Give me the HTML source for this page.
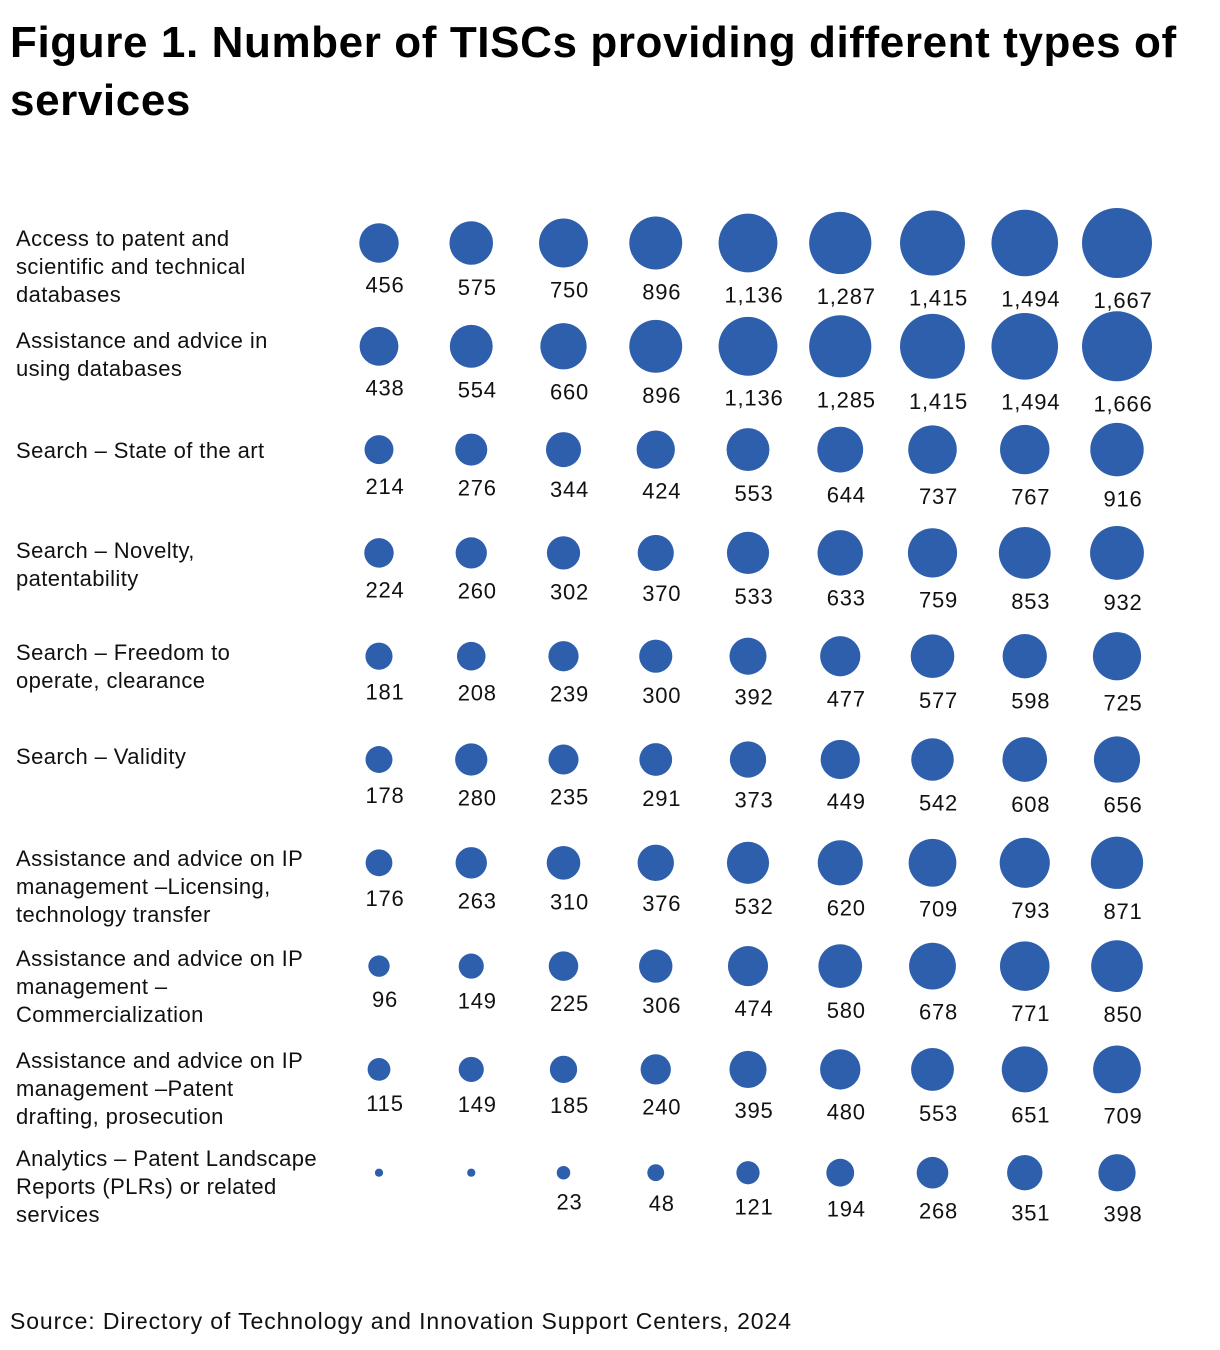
<!DOCTYPE html>
<html><head><meta charset="utf-8">
<style>
body{margin:0;background:#fff;width:1220px;height:1350px;overflow:hidden;font-family:"Liberation Sans","DejaVu Sans",sans-serif;}
h1{position:absolute;left:10px;top:14px;margin:0;font-size:44px;line-height:58px;font-weight:bold;color:#000;width:1210px;letter-spacing:0.6px;}
.src{position:absolute;left:10px;top:1308px;font-size:23px;color:#111;letter-spacing:0.9px;}
.rl{position:absolute;left:16px;font-size:22px;line-height:28px;color:#111;width:350px;letter-spacing:0.4px;white-space:nowrap;}
</style></head><body>
<h1>Figure 1. Number of TISCs providing different types of services</h1>
<div id="labels"></div>
<svg id="chart" width="1220" height="1350" style="position:absolute;left:0;top:0"></svg>
<div class="src">Source: Directory of Technology and Innovation Support Centers, 2024</div>
<script>
const categories=["Access to patent and|scientific and technical|databases","Assistance and advice in|using databases","Search – State of the art","Search – Novelty,|patentability","Search – Freedom to|operate, clearance","Search – Validity","Assistance and advice on IP|management –Licensing,|technology transfer","Assistance and advice on IP|management –|Commercialization","Assistance and advice on IP|management –Patent|drafting, prosecution","Analytics – Patent Landscape|Reports (PLRs) or related|services"];
const row0=[456,575,750,896,1136,1287,1415,1494,1667];
const row1=[438,554,660,896,1136,1285,1415,1494,1666];
const row2=[214,276,344,424,553,644,737,767,916];
const row3=[224,260,302,370,533,633,759,853,932];
const row4=[181,208,239,300,392,477,577,598,725];
const row5=[178,280,235,291,373,449,542,608,656];
const row6=[176,263,310,376,532,620,709,793,871];
const row7=[96,149,225,306,474,580,678,771,850];
const row8=[115,149,185,240,395,480,553,651,709];
const row9=[2,2,23,48,121,194,268,351,398];
const showLabel9=[false,false,true,true,true,true,true,true,true];
const rows=[row0,row1,row2,row3,row4,row5,row6,row7,row8,row9];
const maxV=1667;
const xCol=i=>379+i*92.25;
const yRow=j=>243+j*103.3;
const rScale=v=>3+32*Math.sqrt(v/maxV);
const labelTops=[225,327,437,537,639,743,845,945,1047,1145];
const NS="http://www.w3.org/2000/svg";
const svg=document.getElementById('chart');
const L=document.getElementById('labels');
categories.forEach((c,j)=>{
  const d=document.createElement('div');
  d.className='rl';d.style.top=labelTops[j]+'px';
  d.innerHTML=c.split('|').join('<br>');
  
  
  L.appendChild(d);
  rows[j].forEach((v,i)=>{
    const r=rScale(v),cx=xCol(i),cy=yRow(j);
    const ci=document.createElementNS(NS,'circle');
    ci.setAttribute('cx',cx);ci.setAttribute('cy',cy);ci.setAttribute('r',r);ci.setAttribute('fill','#2e5fac');
    
    
    svg.appendChild(ci);
    if(j===9&&!showLabel9[i])return;
    const t=document.createElementNS(NS,'text');
    t.setAttribute('x',cx+6);t.setAttribute('y',cy+r+30);
    t.setAttribute('text-anchor','middle');t.setAttribute('font-size','22');t.setAttribute('fill','#111');
    t.setAttribute('letter-spacing','0.8');
    t.setAttribute('font-family','Liberation Sans, sans-serif');
    t.textContent=v.toLocaleString('en-US');
    
    
    svg.appendChild(t);
  });
});
</script>
</body></html>
